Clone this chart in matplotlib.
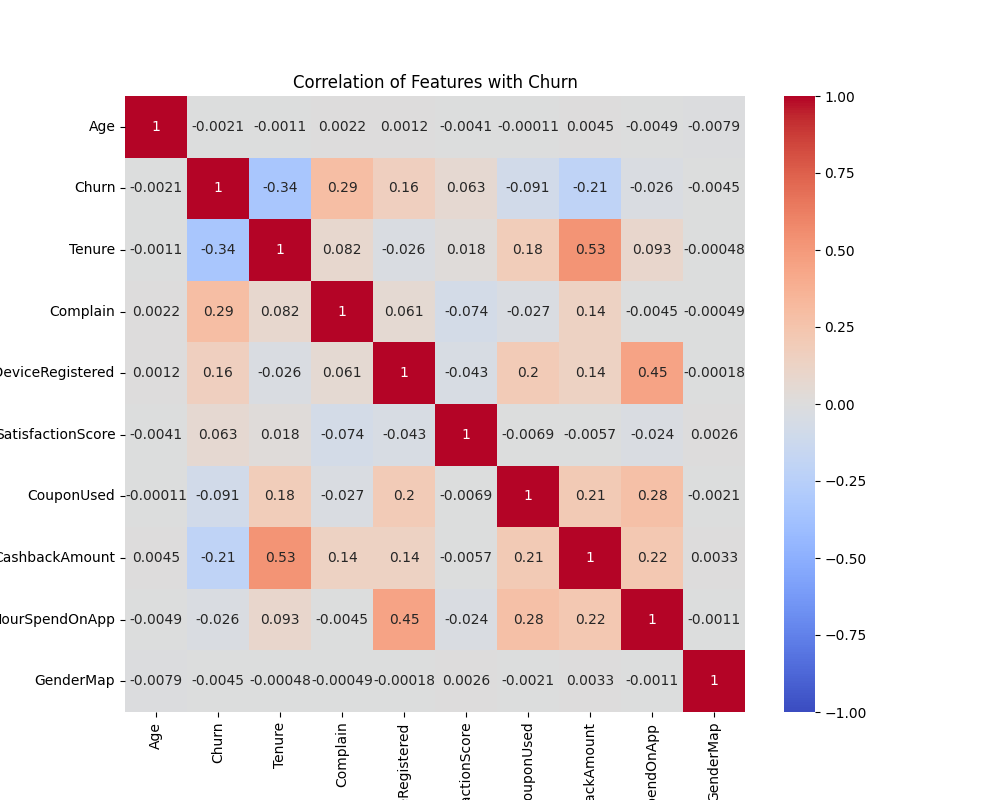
import matplotlib
matplotlib.use("Agg")
import matplotlib.pyplot as plt
import seaborn as sns
import numpy as np
import pandas as pd

features = ["Age", "Churn", "Tenure", "Complain", "NumberOfDeviceRegistered",
            "SatisfactionScore", "CouponUsed", "CashbackAmount", "HourSpendOnApp", "GenderMap"]

row_age = [1, -0.0021, -0.0011, 0.0022, 0.0012, -0.0041, -0.00011, 0.0045, -0.0049, -0.0079]
row_churn = [-0.0021, 1, -0.34, 0.29, 0.16, 0.063, -0.091, -0.21, -0.026, -0.0045]
row_tenure = [-0.0011, -0.34, 1, 0.082, -0.026, 0.018, 0.18, 0.53, 0.093, -0.00048]
row_complain = [0.0022, 0.29, 0.082, 1, 0.061, -0.074, -0.027, 0.14, -0.0045, -0.00049]
row_device = [0.0012, 0.16, -0.026, 0.061, 1, -0.043, 0.2, 0.14, 0.45, -0.00018]
row_satisfaction = [-0.0041, 0.063, 0.018, -0.074, -0.043, 1, -0.0069, -0.0057, -0.024, 0.0026]
row_coupon = [-0.00011, -0.091, 0.18, -0.027, 0.2, -0.0069, 1, 0.21, 0.28, -0.0021]
row_cashback = [0.0045, -0.21, 0.53, 0.14, 0.14, -0.0057, 0.21, 1, 0.22, 0.0033]
row_hour = [-0.0049, -0.026, 0.093, -0.0045, 0.45, -0.024, 0.28, 0.22, 1, -0.0011]
row_gender = [-0.0079, -0.0045, -0.00048, -0.00049, -0.00018, 0.0026, -0.0021, 0.0033, -0.0011, 1]

corr = pd.DataFrame([row_age, row_churn, row_tenure, row_complain, row_device,
                     row_satisfaction, row_coupon, row_cashback, row_hour, row_gender],
                    index=features, columns=features)

fig = plt.figure(figsize=(10, 8), dpi=100)
sns.heatmap(corr, annot=True, cmap="coolwarm", vmin=-1, vmax=1)
plt.title("Correlation of Features with Churn")
plt.savefig("out.png", dpi=100)
